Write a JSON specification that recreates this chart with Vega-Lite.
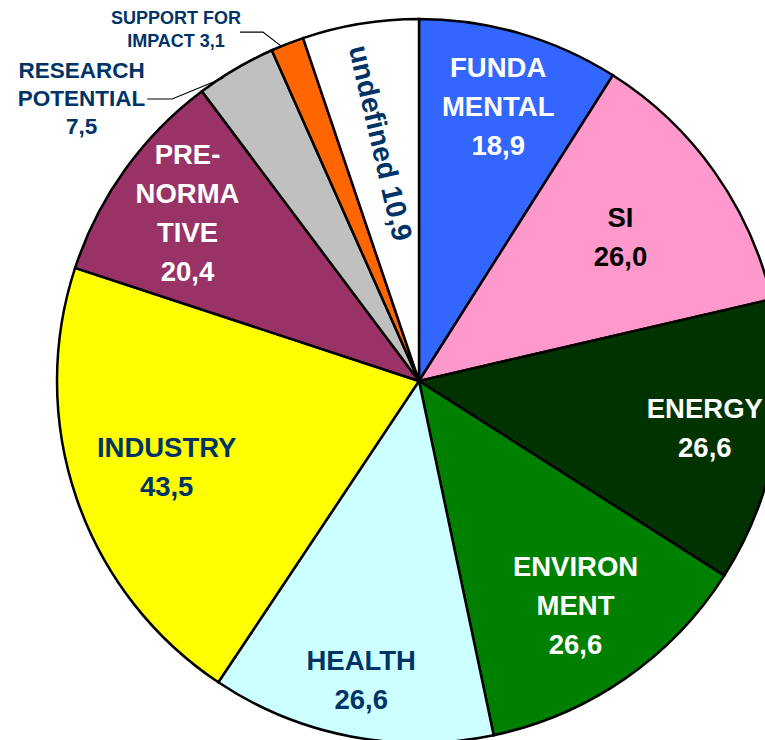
{
  "$schema": "https://vega.github.io/schema/vega-lite/v6.json",
  "width": 838,
  "height": 762,
  "autosize": {"type": "none"},
  "padding": 0,
  "background": "white",
  "config": {"view": {"stroke": null}, "text": {"font": "Liberation Sans", "fontWeight": "bold"}},
  "datasets": {
    "slices": [
      {"cat": "FUNDAMENTAL", "value": 18.9, "label": "FUNDA\nMENTAL\n18,9"},
      {"cat": "SI", "value": 26.0, "label": "SI\n26,0"},
      {"cat": "ENERGY", "value": 26.6, "label": "ENERGY\n26,6"},
      {"cat": "ENVIRONMENT", "value": 26.6, "label": "ENVIRON\nMENT\n  26,6"},
      {"cat": "HEALTH", "value": 26.6, "label": "HEALTH\n26,6"},
      {"cat": "INDUSTRY", "value": 43.5, "label": "INDUSTRY\n43,5"},
      {"cat": "PRE-NORMATIVE", "value": 20.4, "label": "PRE-\nNORMA\nTIVE\n 20,4"},
      {"cat": "RESEARCH POTENTIAL", "value": 7.5, "label": ""},
      {"cat": "SUPPORT FOR IMPACT", "value": 3.1, "label": ""},
      {"cat": "undefined", "value": 10.9, "label": "undefined 10,9"}
    ],
    "leaders": [
      {"lead": "support", "step": 1, "x": -0.4945, "y": 0.964},
      {"lead": "support", "step": 2, "x": -0.431, "y": 0.964},
      {"lead": "support", "step": 3, "x": -0.378, "y": 0.923},
      {"lead": "research", "step": 1, "x": -0.751, "y": 0.779},
      {"lead": "research", "step": 2, "x": -0.682, "y": 0.779},
      {"lead": "research", "step": 3, "x": -0.541, "y": 0.837}
    ],
    "outside": [
      {"name": "support", "text": "SUPPORT FOR\nIMPACT 3,1", "x": -0.6713, "y": 1.0},
      {"name": "research", "text": "RESEARCH\nPOTENTIAL\n7,5", "x": -0.9323, "y": 0.8564}
    ]
  },
  "data": {"name": "slices"},
  "transform": [{"window": [{"op": "row_number", "as": "idx"}]}],
  "layer": [
    {
      "mark": {"type": "arc", "outerRadius": 362, "stroke": "black", "strokeWidth": 2.5},
      "encoding": {
        "theta": {"field": "value", "type": "quantitative", "stack": true},
        "order": {"field": "idx", "type": "quantitative"},
        "color": {
          "field": "cat", "type": "nominal", "legend": null,
          "scale": {
            "domain": ["FUNDAMENTAL", "SI", "ENERGY", "ENVIRONMENT", "HEALTH", "INDUSTRY", "PRE-NORMATIVE", "RESEARCH POTENTIAL", "SUPPORT FOR IMPACT", "undefined"],
            "range": ["#3366FF", "#FF99CC", "#003300", "#008000", "#CCFFFF", "#FFFF00", "#993366", "#C0C0C0", "#FF6600", "#FFFFFF"]
          }
        }
      }
    },
    {
      "mark": {"type": "text", "radius": 284, "dy": -39, "fontSize": 27.5, "lineBreak": "\n", "lineHeight": 39, "color": "white", "align": "center", "baseline": "middle"},
      "encoding": {
        "theta": {"field": "value", "type": "quantitative", "stack": true},
        "order": {"field": "idx", "type": "quantitative"},
        "text": {"condition": {"test": "datum.cat === 'FUNDAMENTAL'", "field": "label"}, "value": ""}
      }
    },
    {
      "mark": {"type": "text", "radius": 290, "dy": -19.5, "fontSize": 27.5, "lineBreak": "\n", "lineHeight": 39, "color": "white", "align": "center", "baseline": "middle"},
      "encoding": {
        "theta": {"field": "value", "type": "quantitative", "stack": true},
        "order": {"field": "idx", "type": "quantitative"},
        "text": {"condition": {"test": "datum.cat === 'ENERGY'", "field": "label"}, "value": ""}
      }
    },
    {
      "mark": {"type": "text", "radius": 285, "dy": -58.5, "fontSize": 27.5, "lineBreak": "\n", "lineHeight": 39, "color": "white", "align": "center", "baseline": "middle"},
      "encoding": {
        "theta": {"field": "value", "type": "quantitative", "stack": true},
        "order": {"field": "idx", "type": "quantitative"},
        "text": {"condition": {"test": "datum.cat === 'PRE-NORMATIVE'", "field": "label"}, "value": ""}
      }
    },
    {
      "mark": {"type": "text", "radius": 275, "dy": -39, "fontSize": 27.5, "lineBreak": "\n", "lineHeight": 39, "color": "white", "align": "center", "baseline": "middle"},
      "encoding": {
        "theta": {"field": "value", "type": "quantitative", "stack": true},
        "order": {"field": "idx", "type": "quantitative"},
        "text": {"condition": {"test": "datum.cat === 'ENVIRONMENT'", "field": "label"}, "value": ""}
      }
    },
    {
      "mark": {"type": "text", "radius": 247, "dy": -19.5, "fontSize": 27.5, "lineBreak": "\n", "lineHeight": 39, "color": "black", "align": "center", "baseline": "middle"},
      "encoding": {
        "theta": {"field": "value", "type": "quantitative", "stack": true},
        "order": {"field": "idx", "type": "quantitative"},
        "text": {"condition": {"test": "datum.cat === 'SI'", "field": "label"}, "value": ""}
      }
    },
    {
      "mark": {"type": "text", "radius": 306, "dy": -19.5, "fontSize": 27.5, "lineBreak": "\n", "lineHeight": 39, "color": "#003366", "align": "center", "baseline": "middle"},
      "encoding": {
        "theta": {"field": "value", "type": "quantitative", "stack": true},
        "order": {"field": "idx", "type": "quantitative"},
        "text": {"condition": {"test": "datum.cat === 'HEALTH'", "field": "label"}, "value": ""}
      }
    },
    {
      "mark": {"type": "text", "radius": 267, "dy": -19.5, "fontSize": 27.5, "lineBreak": "\n", "lineHeight": 39, "color": "#003366", "align": "center", "baseline": "middle"},
      "encoding": {
        "theta": {"field": "value", "type": "quantitative", "stack": true},
        "order": {"field": "idx", "type": "quantitative"},
        "text": {"condition": {"test": "datum.cat === 'INDUSTRY'", "field": "label"}, "value": ""}
      }
    },
    {
      "mark": {"type": "text", "radius": 241, "fontSize": 28.5, "angle": 77, "color": "#003366", "align": "center", "baseline": "middle"},
      "encoding": {
        "theta": {"field": "value", "type": "quantitative", "stack": true},
        "order": {"field": "idx", "type": "quantitative"},
        "text": {"condition": {"test": "datum.cat === 'undefined'", "field": "label"}, "value": ""}
      }
    },
    {
      "data": {"name": "leaders"},
      "mark": {"type": "line", "color": "black", "strokeWidth": 1.2},
      "encoding": {
        "x": {"field": "x", "type": "quantitative", "axis": null, "scale": {"domain": [-1.1575, 1.1575], "nice": false, "zero": false}},
        "y": {"field": "y", "type": "quantitative", "axis": null, "scale": {"domain": [-1.0525, 1.0525], "nice": false, "zero": false}},
        "detail": {"field": "lead", "type": "nominal"},
        "order": {"field": "step", "type": "quantitative"}
      }
    },
    {
      "data": {"name": "outside"},
      "transform": [{"filter": "datum.name === 'support'"}],
      "mark": {"type": "text", "color": "#003366", "lineBreak": "\n", "align": "center", "baseline": "middle", "fontSize": 18, "lineHeight": 23},
      "encoding": {
        "x": {"field": "x", "type": "quantitative"},
        "y": {"field": "y", "type": "quantitative"},
        "text": {"field": "text"}
      }
    },
    {
      "data": {"name": "outside"},
      "transform": [{"filter": "datum.name === 'research'"}],
      "mark": {"type": "text", "color": "#003366", "lineBreak": "\n", "align": "center", "baseline": "middle", "fontSize": 22.5, "lineHeight": 28},
      "encoding": {
        "x": {"field": "x", "type": "quantitative"},
        "y": {"field": "y", "type": "quantitative"},
        "text": {"field": "text"}
      }
    }
  ]
}
